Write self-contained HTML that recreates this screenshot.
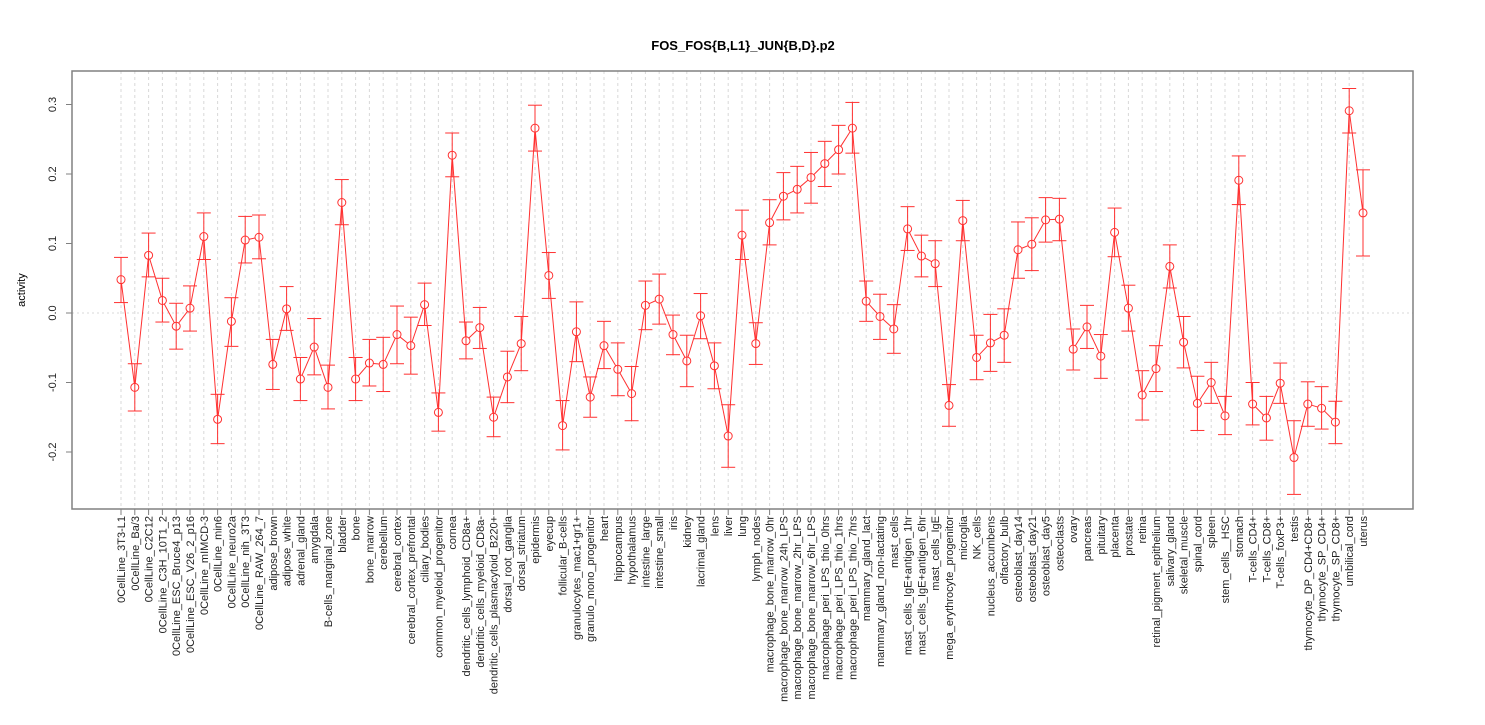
<!DOCTYPE html>
<html><head><meta charset="utf-8"><style>body{margin:0;background:#fff}svg text{font-family:"Liberation Sans",sans-serif}</style></head>
<body>
<svg id="c" width="1485" height="720" xmlns="http://www.w3.org/2000/svg"></svg>
<script>
const categories=["0CellLine_3T3-L1","0CellLine_Ba/3","0CellLine_C2C12","0CellLine_C3H_10T1_2","0CellLine_ESC_Bruce4_p13","0CellLine_ESC_V26_2_p16","0CellLine_mIMCD-3","0CellLine_min6","0CellLine_neuro2a","0CellLine_nih_3T3","0CellLine_RAW_264_7","adipose_brown","adipose_white","adrenal_gland","amygdala","B-cells_marginal_zone","bladder","bone","bone_marrow","cerebellum","cerebral_cortex","cerebral_cortex_prefrontal","ciliary_bodies","common_myeloid_progenitor","cornea","dendritic_cells_lymphoid_CD8a+","dendritic_cells_myeloid_CD8a-","dendritic_cells_plasmacytoid_B220+","dorsal_root_ganglia","dorsal_striatum","epidermis","eyecup","follicular_B-cells","granulocytes_mac1+gr1+","granulo_mono_progenitor","heart","hippocampus","hypothalamus","intestine_large","intestine_small","iris","kidney","lacrimal_gland","lens","liver","lung","lymph_nodes","macrophage_bone_marrow_0hr","macrophage_bone_marrow_24h_LPS","macrophage_bone_marrow_2hr_LPS","macrophage_bone_marrow_6hr_LPS","macrophage_peri_LPS_thio_0hrs","macrophage_peri_LPS_thio_1hrs","macrophage_peri_LPS_thio_7hrs","mammary_gland_lact","mammary_gland_non-lactating","mast_cells","mast_cells_IgE+antigen_1hr","mast_cells_IgE+antigen_6hr","mast_cells_IgE","mega_erythrocyte_progenitor","microglia","NK_cells","nucleus_accumbens","olfactory_bulb","osteoblast_day14","osteoblast_day21","osteoblast_day5","osteoclasts","ovary","pancreas","pituitary","placenta","prostate","retina","retinal_pigment_epithelium","salivary_gland","skeletal_muscle","spinal_cord","spleen","stem_cells__HSC","stomach","T-cells_CD4+","T-cells_CD8+","T-cells_foxP3+","testis","thymocyte_DP_CD4+CD8+","thymocyte_SP_CD4+","thymocyte_SP_CD8+","umbilical_cord","uterus"];
const values=[0.048,-0.107,0.083,0.018,-0.019,0.007,0.110,-0.153,-0.012,0.105,0.109,-0.074,0.006,-0.095,-0.049,-0.107,0.159,-0.095,-0.072,-0.074,-0.031,-0.047,0.012,-0.143,0.227,-0.040,-0.021,-0.150,-0.092,-0.044,0.266,0.054,-0.162,-0.027,-0.121,-0.047,-0.081,-0.116,0.011,0.020,-0.031,-0.069,-0.004,-0.076,-0.177,0.112,-0.044,0.130,0.168,0.178,0.195,0.215,0.235,0.266,0.017,-0.005,-0.023,0.121,0.082,0.071,-0.133,0.133,-0.064,-0.043,-0.032,0.091,0.099,0.134,0.135,-0.052,-0.020,-0.062,0.116,0.007,-0.118,-0.080,0.067,-0.042,-0.130,-0.100,-0.148,0.191,-0.131,-0.151,-0.101,-0.208,-0.131,-0.137,-0.157,0.291,0.144];
const lower=[0.015,-0.141,0.052,-0.013,-0.052,-0.026,0.077,-0.188,-0.048,0.072,0.078,-0.110,-0.025,-0.126,-0.089,-0.138,0.127,-0.126,-0.105,-0.113,-0.073,-0.088,-0.018,-0.170,0.196,-0.066,-0.051,-0.178,-0.129,-0.083,0.233,0.021,-0.197,-0.070,-0.150,-0.080,-0.119,-0.155,-0.024,-0.016,-0.060,-0.106,-0.037,-0.109,-0.222,0.077,-0.074,0.098,0.134,0.144,0.158,0.182,0.200,0.230,-0.012,-0.038,-0.058,0.090,0.052,0.038,-0.163,0.104,-0.096,-0.084,-0.071,0.050,0.061,0.102,0.104,-0.082,-0.051,-0.094,0.081,-0.026,-0.154,-0.113,0.036,-0.079,-0.169,-0.130,-0.175,0.156,-0.161,-0.183,-0.130,-0.261,-0.163,-0.167,-0.188,0.259,0.082];
const upper=[0.080,-0.073,0.115,0.050,0.014,0.039,0.144,-0.117,0.022,0.139,0.141,-0.038,0.038,-0.064,-0.008,-0.075,0.192,-0.064,-0.038,-0.035,0.010,-0.006,0.043,-0.115,0.259,-0.013,0.008,-0.121,-0.055,-0.005,0.299,0.087,-0.126,0.016,-0.092,-0.012,-0.043,-0.077,0.046,0.056,-0.003,-0.032,0.028,-0.043,-0.132,0.148,-0.014,0.163,0.202,0.211,0.231,0.247,0.270,0.303,0.046,0.027,0.012,0.153,0.112,0.104,-0.103,0.162,-0.032,-0.002,0.006,0.131,0.137,0.166,0.165,-0.023,0.011,-0.031,0.151,0.040,-0.083,-0.047,0.098,-0.005,-0.091,-0.071,-0.120,0.226,-0.100,-0.120,-0.072,-0.155,-0.099,-0.106,-0.127,0.323,0.206];
const yTicks=[-0.2,-0.1,0.0,0.1,0.2,0.3];
const yTickLabels=["-0.2","-0.1","0.0","0.1","0.2","0.3"];
const svg=document.getElementById('c');
const NS="http://www.w3.org/2000/svg";
const L=72,R=1413,T=71,B=509;
function xs(i){return 121+i*(1363-121)/(categories.length-1);}
function ys(v){return 313-v*695;}
function mk(tag,attrs,name,parent){const e=document.createElementNS(NS,tag);for(const k in attrs)e.setAttribute(k,attrs[k]);


(parent||svg).appendChild(e);return e;}
// grid
categories.forEach((c,i)=>{mk('line',{x1:xs(i),x2:xs(i),y1:T,y2:B,stroke:'#d8d8d8','stroke-dasharray':'3,3'},'grid-line');});
mk('line',{x1:L,x2:R,y1:ys(0),y2:ys(0),stroke:'#d8d8d8','stroke-dasharray':'2,3'},'zero-line');
// box
mk('rect',{x:L,y:T,width:R-L,height:B-T,fill:'none',stroke:'#808080','stroke-width':1.5},'plot-box');
// y axis
yTicks.forEach((v,i)=>{const y=ys(v);mk('line',{x1:L-6,x2:L,y1:y,y2:y,stroke:'#808080'},'y-tick');
const t=mk('text',{x:0,y:0,transform:`translate(56,${y}) rotate(-90)`,'text-anchor':'middle','font-size':11,fill:'#222'},'y-tick-label');t.textContent=yTickLabels[i];});
const yt=mk('text',{transform:'translate(25,290) rotate(-90)','text-anchor':'middle','font-size':11},'y-axis-title');yt.textContent='activity';
const tt=mk('text',{x:743,y:50,'text-anchor':'middle','font-size':13,'font-weight':'bold'},'chart-title');tt.textContent='FOS_FOS{B,L1}_JUN{B,D}.p2';
// x ticks & labels
categories.forEach((c,i)=>{const x=xs(i);mk('line',{x1:x,x2:x,y1:B,y2:B+6,stroke:'#808080'},'x-tick');
const t=mk('text',{transform:`translate(${x+4},516) rotate(-90)`,'text-anchor':'end','font-size':11,fill:'#222'},'x-tick-label');t.textContent=c;});
// lines between points
const r=4;
for(let i=0;i<values.length-1;i++){const x1=xs(i),y1=ys(values[i]),x2=xs(i+1),y2=ys(values[i+1]);const d=Math.hypot(x2-x1,y2-y1);if(d<2*r+1)continue;const ux=(x2-x1)/d,uy=(y2-y1)/d;
mk('line',{x1:x1+ux*r,y1:y1+uy*r,x2:x2-ux*r,y2:y2-uy*r,stroke:'#ff3030','stroke-width':1},'series-line');}
// error bars & points
values.forEach((v,i)=>{const x=xs(i);
mk('line',{x1:x,x2:x,y1:ys(lower[i]),y2:ys(upper[i]),stroke:'#ff3030'},'error-bar');
mk('line',{x1:x-7,x2:x+7,y1:ys(lower[i]),y2:ys(lower[i]),stroke:'#ff3030'},'error-cap-low');
mk('line',{x1:x-7,x2:x+7,y1:ys(upper[i]),y2:ys(upper[i]),stroke:'#ff3030'},'error-cap-high');
mk('circle',{cx:x,cy:ys(v),r:r,fill:'none',stroke:'#ff3030'},'data-point');});
</script>
</body></html>
